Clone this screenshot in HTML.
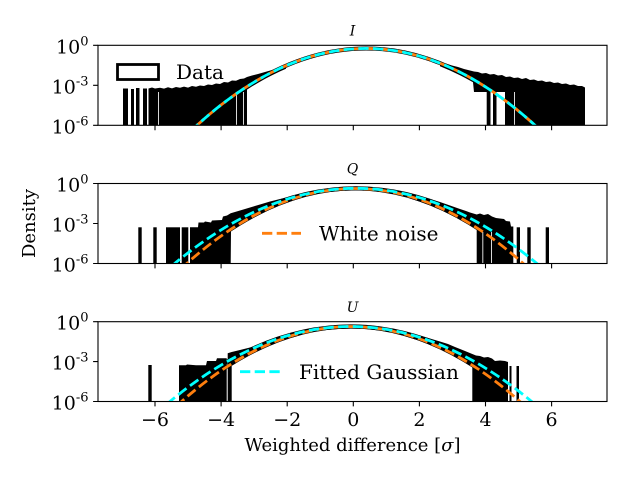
<!DOCTYPE html>
<html>
<head>
<meta charset="utf-8">
<style>
  html,body{margin:0;padding:0;background:#fff;}
  svg{display:block;font-family:"DejaVu Serif","Liberation Serif",serif;}
  text{font-family:"DejaVu Serif","Liberation Serif",serif;}
</style>
</head>
<body>
<svg width="640" height="480" viewBox="0 0 640 480" xmlns="http://www.w3.org/2000/svg" font-family="DejaVu Serif, Liberation Serif, serif">
<defs>
  <clipPath id="c1"><rect x="98" y="45.3" width="509" height="80"/></clipPath>
  <clipPath id="c2"><rect x="98" y="183.5" width="509" height="80"/></clipPath>
  <clipPath id="c3"><rect x="98" y="321.7" width="509" height="79.8"/></clipPath>
  <clipPath id="m1"><rect x="245" y="45.3" width="230" height="80"/></clipPath>
  <clipPath id="m2"><rect x="225" y="183.5" width="255" height="80"/></clipPath>
  <clipPath id="m3"><rect x="225" y="321.7" width="250" height="79.8"/></clipPath>
</defs>
<rect width="640" height="480" fill="#fff"/>

<!-- ================= Panel 1 (I) ================= -->
<g clip-path="url(#c1)" fill="#000">
  <rect x="123" y="88.5" width="5" height="37"/>
  <rect x="131" y="89" width="3" height="37"/>
  <rect x="136" y="88" width="3.5" height="38"/>
  <rect x="143" y="88.5" width="4" height="37"/>
  <polygon points="148.5,125.3 148.5,88.5 152,87.5 155,88.5 160,87.8 164,88.6 168,87.2 172,88.4 176,87 180,87.8 184,86.6 188,87.6 192,86 196,86.8 200,85.5 204,86 208,84.5 212,85 216,83.5 220,84 224,82 228,82.5 232,80.5 236,80.8 240,79 244,78.5 247,77 252,75.5 258,74 265,72 272,70 280,67.2 286,65.5 286,68.7 280,71.4 272,75.3 265,78.9 258,82.9 252,86.4 247,89.6 247,125.3"/>
  <polygon points="440,62 446,63.5 452,65.5 458,67 464,69 470,70.5 474,71.5 478,72 482,73.5 486,73 490,74.5 494,74 498,75.5 502,75 506,77 510,76.5 514,78 518,77.5 522,79 526,78 530,80 534,79.5 538,81 542,80.5 546,82 550,81.5 554,83 558,82.5 562,84 566,83.5 570,85 574,84.5 578,86 582,86 585,87.5 585,125.3 505,125.3 505,92 474,92 473,82.3 466,78.4 460,75.3 450,70.5 440,66.2"/>
  <rect x="486.7" y="90" width="3.8" height="35.3"/>
  <rect x="493" y="90" width="3.5" height="35.3"/>
  <g fill="#fff" opacity="0.85">
    <rect x="158" y="92" width="1" height="34"/>
    <rect x="236" y="92" width="1" height="34"/>
    <rect x="243" y="92" width="1" height="34"/>
    <rect x="514" y="92" width="1" height="34"/>
  </g>
</g>
<g clip-path="url(#m1)" fill="none" stroke="#000">
  <path d="M180,141.5 Q366,-44.6 552,141.5" stroke-width="4"/>
</g>
<g clip-path="url(#c1)" fill="none" stroke-width="2.8" stroke-dasharray="10.3,4.4">
  <path d="M180,141.5 Q366,-44.6 552,141.5" stroke="#ff7f0e" stroke-dashoffset="7"/>
  <path d="M180,141.5 Q366,-44.6 552,141.5" stroke="#00ffff"/>
</g>
<rect x="98" y="45.3" width="509" height="80" fill="none" stroke="#000" stroke-width="1.1"/>

<!-- ================= Panel 2 (Q) ================= -->
<g clip-path="url(#c2)" fill="#000">
  <rect x="138.3" y="227.3" width="3.4" height="36.2"/>
  <rect x="153.3" y="227.3" width="3.4" height="36.2"/>
  <rect x="166" y="227.3" width="14" height="36.2"/>
  <rect x="181.7" y="227.3" width="6.6" height="36.2"/>
  <polygon points="190,263.5 190,227.3 198,227.3 198.5,222.5 204,222.5 205,221.5 211,222.5 212,220.5 222,220 223,216.5 227,215.5 230.7,213.3 240,210.5 250,207.5 260,204.5 270,201.5 280,199 290,196.5 295,195.5 295,200 290,201.7 280,205.4 270,209.6 260,214.4 250,219.7 240,225.5 231,231.2 230.7,263.5"/>
  <polygon points="410,194.5 420,196.5 430,199 440,202 450,205.5 460,209 466,211 470,212.5 476.7,214.5 480,213.5 484,215 488,214 492,216.5 496,218 500,218.5 504,219 506,221 510,221.5 511,226.5 513.3,226.5 513.3,263.5 476.7,263.5 476.7,229.7 470,225.5 460,219.7 450,214.4 440,209.6 430,205.4 420,201.7 410,198.5"/>
  <rect x="516.7" y="227.3" width="3.3" height="36.2"/>
  <rect x="527.3" y="227.3" width="3.4" height="36.2"/>
  <rect x="545.7" y="227.3" width="3.3" height="36.2"/>
  <g fill="#fff" opacity="0.85">
    <rect x="482.3" y="232" width="1" height="32"/>
    <rect x="491" y="232" width="1" height="32"/>
  </g>
</g>
<g clip-path="url(#m2)" fill="none" stroke="#000">
  <path d="M160.8,275.5 Q355.8,101.1 550.8,275.5" stroke-width="4"/>
  <path d="M170,279.2 Q355,97.8 540,279.2" stroke-width="3.6"/>
</g>
<g clip-path="url(#c2)" fill="none" stroke-width="2.8" stroke-dasharray="10.3,4.4">
  <path d="M170,279.2 Q355,97.8 540,279.2" stroke="#ff7f0e"/>
  <path d="M160.8,275.5 Q355.8,101.1 550.8,275.5" stroke="#00ffff"/>
</g>
<rect x="98" y="183.5" width="509" height="80" fill="none" stroke="#000" stroke-width="1.1"/>

<!-- ================= Panel 3 (U) ================= -->
<g clip-path="url(#c3)" fill="#000">
  <rect x="148.3" y="365" width="3.4" height="36.5"/>
  <polygon points="179,401.5 179,365.3 186,365.3 187,364.5 196,365.3 206,365.3 207,361 216,361 217,358.3 226.7,358.3 226.7,401.5"/>
  <polygon points="227.7,401.5 227.7,353.3 231.7,352 240,350 250,347.5 260,344.5 270,341.5 280,339 290,336.5 300,334.5 300,335.3 290,338.2 280,341.6 270,345.6 260,350.1 250,355.1 240,360.7 231.7,365.7 231.7,401.5"/>
  <polygon points="400,331.5 410,333.5 420,335.5 430,338.5 440,341.5 448,344 455,347 460,349 465,351 472.3,354 476,355.5 480,356 484,357.5 488,357 492,358.5 495,361 500,360.5 505,361 508,362 508,401.5 472.3,401.5 472.3,367.2 465,362.7 460,359.7 450,354.3 440,349.3 430,344.9 420,341 410,337.7 400,334.8"/>
  <rect x="509.5" y="366" width="2" height="35.5"/>
  <rect x="516.5" y="366" width="2.5" height="35.5"/>
</g>
<g clip-path="url(#m3)" fill="none" stroke="#000">
  <path d="M155.8,413.7 Q350.8,239.3 545.8,413.7" stroke-width="4"/>
  <path d="M165.8,416.2 Q350.8,236.9 535.8,416.2" stroke-width="3.6"/>
</g>
<g clip-path="url(#c3)" fill="none" stroke-width="2.8" stroke-dasharray="10.3,4.4">
  <path d="M165.8,416.2 Q350.8,236.9 535.8,416.2" stroke="#ff7f0e"/>
  <path d="M155.8,413.7 Q350.8,239.3 545.8,413.7" stroke="#00ffff"/>
</g>
<rect x="98" y="321.7" width="509" height="79.8" fill="none" stroke="#000" stroke-width="1.1"/>

<!-- ================= Ticks ================= -->
<g stroke="#000" stroke-width="1.1">
  <path d="M155,125.3v4.9M221.1,125.3v4.9M287.2,125.3v4.9M353.3,125.3v4.9M419.4,125.3v4.9M485.5,125.3v4.9M551.6,125.3v4.9"/>
  <path d="M155,263.5v4.9M221.1,263.5v4.9M287.2,263.5v4.9M353.3,263.5v4.9M419.4,263.5v4.9M485.5,263.5v4.9M551.6,263.5v4.9"/>
  <path d="M155,401.5v4.9M221.1,401.5v4.9M287.2,401.5v4.9M353.3,401.5v4.9M419.4,401.5v4.9M485.5,401.5v4.9M551.6,401.5v4.9"/>
  <path d="M98,45.3h-4.9M98,85.3h-4.9M98,125.3h-4.9"/>
  <path d="M98,183.5h-4.9M98,223.5h-4.9M98,263.5h-4.9"/>
  <path d="M98,321.7h-4.9M98,361.6h-4.9M98,401.5h-4.9"/>
</g>

<!-- ================= Tick labels ================= -->
<g font-family="DejaVu Serif, Liberation Serif, serif" font-size="19" fill="#000" text-anchor="middle">
  <text x="155" y="426">−6</text>
  <text x="221.1" y="426">−4</text>
  <text x="287.2" y="426">−2</text>
  <text x="353.3" y="426">0</text>
  <text x="419.4" y="426">2</text>
  <text x="485.5" y="426">4</text>
  <text x="551.6" y="426">6</text>
</g>
<g font-family="DejaVu Serif, Liberation Serif, serif" font-size="19" fill="#000" text-anchor="end">
  <text x="88.5" y="53.3">10<tspan dy="-8" font-size="13">0</tspan></text>
  <text x="88.5" y="93.3">10<tspan dy="-8" font-size="13">-3</tspan></text>
  <text x="88.5" y="133.3">10<tspan dy="-8" font-size="13">-6</tspan></text>
  <text x="88.5" y="191.5">10<tspan dy="-8" font-size="13">0</tspan></text>
  <text x="88.5" y="231.5">10<tspan dy="-8" font-size="13">-3</tspan></text>
  <text x="88.5" y="271.5">10<tspan dy="-8" font-size="13">-6</tspan></text>
  <text x="88.5" y="329.7">10<tspan dy="-8" font-size="13">0</tspan></text>
  <text x="88.5" y="369.6">10<tspan dy="-8" font-size="13">-3</tspan></text>
  <text x="88.5" y="409.5">10<tspan dy="-8" font-size="13">-6</tspan></text>
</g>

<!-- ================= Titles & labels ================= -->
<g font-family="DejaVu Serif, Liberation Serif, serif" font-size="14" font-style="italic" fill="#000" text-anchor="middle">
  <text x="352.5" y="35.5">I</text>
  <text x="352.5" y="173.7">Q</text>
  <text x="352.5" y="311.9">U</text>
</g>
<text x="352.5" y="451" font-family="DejaVu Serif, Liberation Serif, serif" font-size="18" text-anchor="middle" fill="#000">Weighted difference [<tspan font-style="italic">σ</tspan>]</text>
<text transform="translate(35,223.5) rotate(-90)" font-family="DejaVu Serif, Liberation Serif, serif" font-size="18" text-anchor="middle" fill="#000">Density</text>

<!-- ================= Legends ================= -->
<rect x="117.5" y="64.5" width="41" height="15" fill="#fff" stroke="#000" stroke-width="2.8"/>
<text x="176" y="79" font-family="DejaVu Serif, Liberation Serif, serif" font-size="20" fill="#000">Data</text>

<line x1="262" y1="233.3" x2="301" y2="233.3" stroke="#ff7f0e" stroke-width="2.8" stroke-dasharray="10.3,4.4"/>
<text x="319" y="240.6" font-family="DejaVu Serif, Liberation Serif, serif" font-size="20" fill="#000">White noise</text>

<line x1="240" y1="371.7" x2="280" y2="371.7" stroke="#00ffff" stroke-width="2.8" stroke-dasharray="10.3,4.4"/>
<text x="299" y="379" font-family="DejaVu Serif, Liberation Serif, serif" font-size="20" fill="#000">Fitted Gaussian</text>
</svg>
</body>
</html>
